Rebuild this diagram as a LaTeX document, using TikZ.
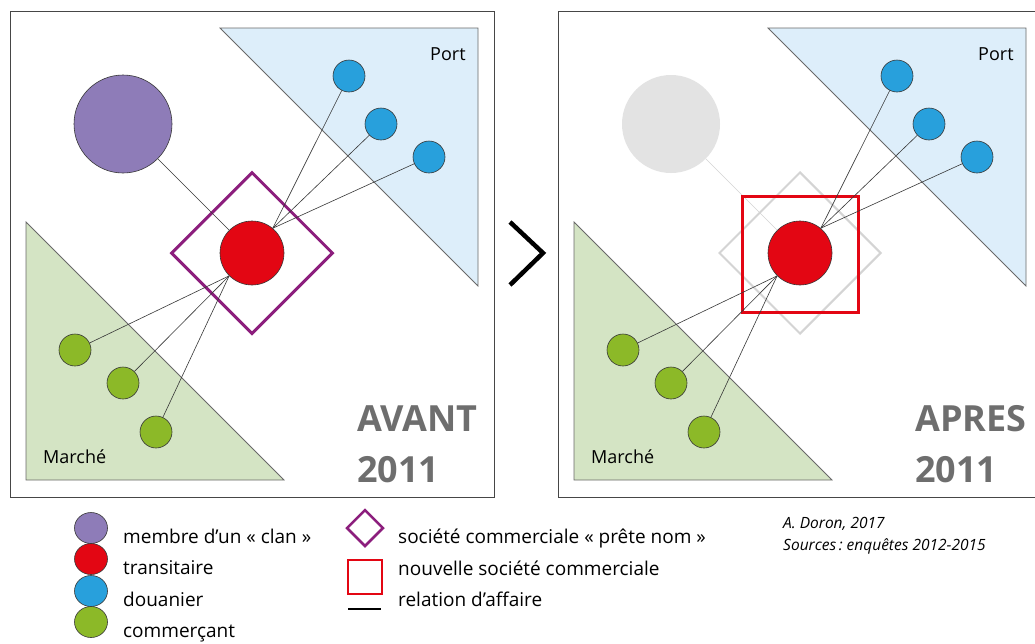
\documentclass[tikz,border=0pt]{standalone}
\usepackage{fontspec}
\setmainfont{Open Sans}
\usetikzlibrary{positioning,shapes.geometric,backgrounds}
\definecolor{mapFrame}{RGB}{70,70,70}
\definecolor{mapEdge}{RGB}{105,105,105}
\definecolor{mapPortFill}{RGB}{221,238,250}
\definecolor{mapMarcheFill}{RGB}{212,228,196}
\definecolor{mapPurple}{RGB}{142,124,184}
\definecolor{mapRed}{RGB}{227,6,19}
\definecolor{mapBlue}{RGB}{40,160,220}
\definecolor{mapGreen}{RGB}{140,185,40}
\definecolor{mapPlum}{RGB}{140,30,125}
\definecolor{mapText}{RGB}{110,110,110}
\definecolor{mapGhost}{RGB}{227,227,227}
\definecolor{mapGhostLine}{RGB}{212,212,212}
\definecolor{mapLink}{RGB}{55,55,55}

\begin{document}
\begin{tikzpicture}[x=1pt, y=-1pt,
  actor/.style={circle, draw=mapLink, line width=0.6pt, inner sep=0pt},
  clan/.style={actor, fill=mapPurple, minimum size=98pt},
  ghost/.style={circle, fill=mapGhost, inner sep=0pt, minimum size=98pt},
  transit/.style={actor, fill=mapRed, minimum size=64pt},
  douane/.style={actor, fill=mapBlue, minimum size=32pt},
  commerce/.style={actor, fill=mapGreen, minimum size=32pt},
  keydot/.style={ellipse, draw=mapLink, line width=0.6pt, inner sep=0pt, minimum width=33pt, minimum height=31pt},
  prete/.style={diamond, draw=mapPlum, line width=3pt, inner sep=0pt, minimum size=162pt},
  nouvelle/.style={rectangle, draw=mapRed, line width=3pt, inner sep=0pt, minimum size=116pt},
  link/.style={mapLink, line width=0.6pt},
  frame/.style={draw=mapFrame, line width=1pt},
  zone/.style={draw=mapEdge, line width=0.8pt},
  zonetext/.style={anchor=base west, inner sep=0pt, font=\fontsize{18}{20}\selectfont},
  period/.style={anchor=base west, inner sep=0pt, text=mapText, font=\fontsize{36}{40}\selectfont\bfseries},
  keytext/.style={anchor=base west, inner sep=0pt, font=\fontsize{19}{22}\selectfont},
  credit/.style={anchor=base west, inner sep=0pt, font=\fontsize{15.5}{18}\selectfont\itshape}]

  \useasboundingbox (0,0) rectangle (1035,643);
  \begin{pgfonlayer}{background}
    \fill[white] (0,0) rectangle (1035,643);
  \end{pgfonlayer}

  % Before 2011
  \begin{scope}
    \node[clan] (clanA) at (123,124) {};
    \node[transit] (transA) at (252,253) {};
    \foreach \px/\py [count=\i] in {349/76, 381/124, 429/157}
      \node[douane] (douA\i) at (\px,\py) {};
    \foreach \px/\py [count=\i] in {75/350, 123/383, 156/432}
      \node[commerce] (comA\i) at (\px,\py) {};

    \begin{pgfonlayer}{background}
      \draw[frame] (10,11) rectangle (494,497);
      \filldraw[zone, fill=mapPortFill] (220,28) -- (478,28) -- (478,286) -- cycle;
      \filldraw[zone, fill=mapMarcheFill] (26,222) -- (26,480) -- (284,480) -- cycle;
      \node[prete] (preteA) at (252,253) {};
      \draw[link] (clanA) -- (transA.135);
      \foreach \i in {1,2,3} {
        \draw[link] (douA\i) -- (transA.50);
        \draw[link] (comA\i) -- (transA.225);
      }
    \end{pgfonlayer}

    \node[zonetext] (portA) at (430,60) {Port};
    \node[zonetext] (marcheA) at (43,463) {Marché};
    \node[period] (avant) at (357,431) {AVANT};
    \node[period] (yearA) at (357,482) {2011};
  \end{scope}

  % Chevron
  \draw[line width=4.5pt] (510,222) -- (543,253) -- (510,285);

  % After 2011
  \begin{scope}[xshift=548pt]
    \node[ghost] (clanB) at (123,124) {};
    \node[transit] (transB) at (252,253) {};
    \foreach \px/\py [count=\i] in {349/76, 381/124, 429/157}
      \node[douane] (douB\i) at (\px,\py) {};
    \foreach \px/\py [count=\i] in {75/350, 123/383, 156/432}
      \node[commerce] (comB\i) at (\px,\py) {};

    \begin{pgfonlayer}{background}
      \draw[frame] (10,11) rectangle (494,497);
      \filldraw[zone, fill=mapPortFill] (220,28) -- (478,28) -- (478,286) -- cycle;
      \filldraw[zone, fill=mapMarcheFill] (26,222) -- (26,480) -- (284,480) -- cycle;
      \node[prete, draw=mapGhostLine, line width=2pt] (preteB) at (252,253) {};
      \draw[mapGhostLine, line width=0.5pt] (clanB) -- (transB.135);
      \node[nouvelle] (nouvB) at (252,254) {};
      \foreach \i in {1,2,3} {
        \draw[link] (douB\i) -- (transB.50);
        \draw[link] (comB\i) -- (transB.225);
      }
    \end{pgfonlayer}

    \node[zonetext] (portB) at (430,60) {Port};
    \node[zonetext] (marcheB) at (43,463) {Marché};
    \node[period] (apres) at (367,431) {APRES};
    \node[period] (yearB) at (367,482) {2011};
  \end{scope}

  % Legend
  \node[keydot, fill=mapPurple] (keyClan) at (91,528) {};
  \node[keydot, fill=mapRed] (keyTransit) at (91,559) {};
  \node[keydot, fill=mapBlue] (keyDouane) at (91,591) {};
  \node[keydot, fill=mapGreen] (keyCommerce) at (91,622) {};
  \node[keytext] (txtClan) at (123,543) {membre d’un «~clan~»};
  \node[keytext] (txtTransit) at (123,574) {transitaire};
  \node[keytext] (txtDouane) at (123,606) {douanier};
  \node[keytext] (txtCommerce) at (123,637) {commerçant};

  \node[prete, line width=2.5pt, minimum size=37pt] (keyPrete) at (365,528) {};
  \node[nouvelle, line width=2.5pt, minimum size=34pt] (keyNouvelle) at (365,577) {};
  \coordinate (keyLinkL) at (348,609);
  \coordinate (keyLinkR) at (381,609);
  \draw[line width=1.4pt] (keyLinkL) -- (keyLinkR);
  \node[keytext] (txtPrete) at (398,543) {société commerciale «~prête nom~»};
  \node[keytext] (txtNouvelle) at (398,575) {nouvelle société commerciale};
  \node[keytext] (txtLink) at (398,606) {relation d’affaire};

  % Credits
  \node[credit] (author) at (783,528) {A. Doron, 2017};
  \node[credit] (sources) at (783,550) {Sources\,:~enquêtes 2012-2015};
\end{tikzpicture}
\end{document}
